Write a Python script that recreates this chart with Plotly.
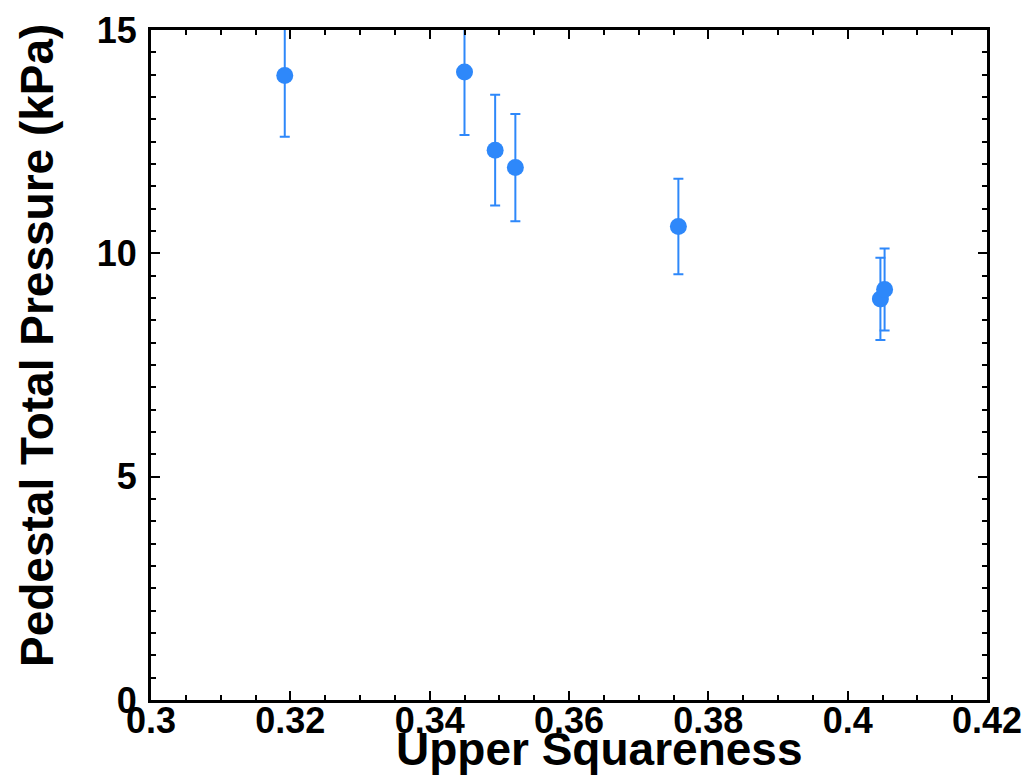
import plotly.graph_objects as go

# Data
upper_squareness = [0.3192, 0.3450, 0.3494, 0.3523, 0.3757, 0.4047, 0.4053]
pedestal_pressure = [13.98, 14.06, 12.31, 11.92, 10.60, 8.98, 9.19]
pressure_error = [1.37, 1.41, 1.24, 1.20, 1.07, 0.92, 0.92]

x_ticks = [0.3, 0.32, 0.34, 0.36, 0.38, 0.4, 0.42]
x_tick_labels = ["0.3", "0.32", "0.34", "0.36", "0.38", "0.4", "0.42"]
y_ticks = [0, 5, 10, 15]
y_tick_labels = ["0", "5", "10", "15"]
x_title = "Upper Squareness"
y_title = "Pedestal Total Pressure (kPa)"

color = "#2e88fa"
font_family = "Liberation Sans, Arial, Helvetica, sans-serif"

fig = go.Figure()
fig.add_trace(go.Scatter(
    x=upper_squareness,
    y=pedestal_pressure,
    mode="markers",
    marker=dict(size=17, color=color),
    error_y=dict(type="data", array=pressure_error, visible=True,
                 color=color, thickness=2, width=5),
    cliponaxis=True,
    showlegend=False,
))

axis_common = dict(
    showline=True, linecolor="black", linewidth=3,
    mirror="ticks", ticks="inside", ticklen=9, tickwidth=2, tickcolor="black",
    showgrid=False, zeroline=False, automargin=False,
    tickfont=dict(family=font_family, size=36, color="black", weight="bold"),
)

fig.update_xaxes(
    range=[0.3, 0.42], tickmode="array", tickvals=x_ticks, ticktext=x_tick_labels,
    minor=dict(dtick=0.005, ticks="inside", ticklen=5, tickwidth=2, tickcolor="black", showgrid=False),
    ticklabelstandoff=-13,
    **axis_common,
)
fig.update_yaxes(
    range=[0, 15], tickmode="array", tickvals=y_ticks, ticktext=y_tick_labels,
    minor=dict(dtick=0.5, ticks="inside", ticklen=5, tickwidth=2, tickcolor="black", showgrid=False),
    ticklabelstandoff=4,
    **axis_common,
)

# Plot area: 151..987 px horizontally, 30..700 px vertically
plot_w = 1028 - 151 - 41
plot_h = 784 - 30 - 84

fig.add_annotation(
    text=f"<b>{x_title}</b>", xref="paper", yref="paper",
    x=(599 - 151) / plot_w, y=-(749 - 700) / plot_h,
    xanchor="center", yanchor="middle", showarrow=False,
    font=dict(family=font_family, size=46, color="black"),
)
fig.add_annotation(
    text=f"<b>{y_title}</b>", xref="paper", yref="paper",
    x=(37 - 151) / plot_w, y=(700 - 346) / plot_h,
    xanchor="center", yanchor="middle", textangle=-90, showarrow=False,
    font=dict(family=font_family, size=46, color="black"),
)

fig.update_layout(
    width=1028, height=784,
    margin=dict(l=151, r=41, t=30, b=84),
    paper_bgcolor="white", plot_bgcolor="white",
)

fig.write_html("out.html")
